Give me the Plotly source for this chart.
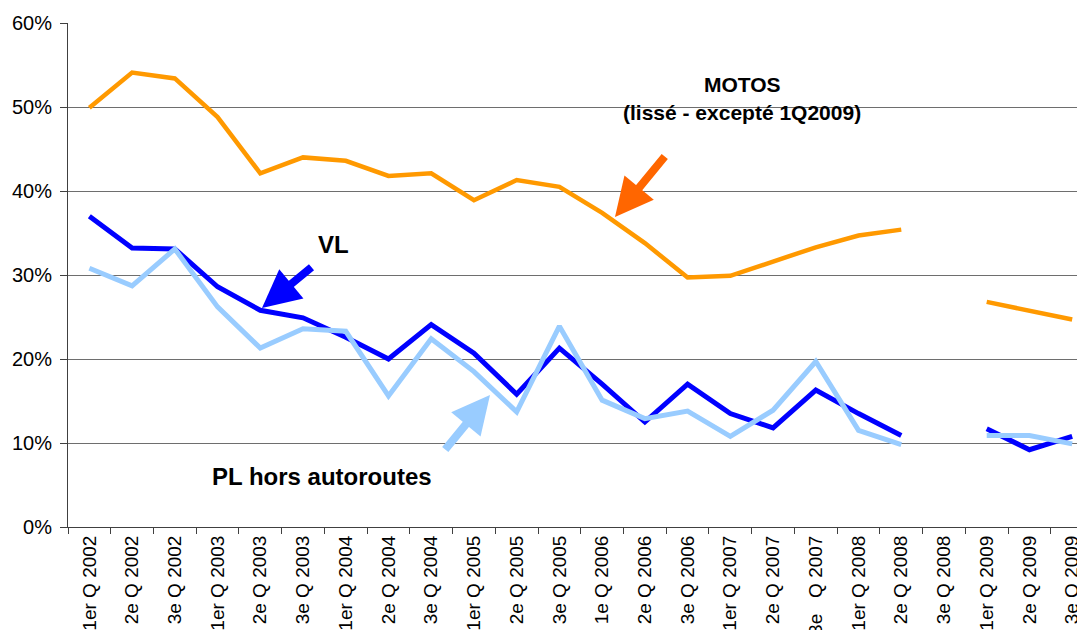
import plotly.graph_objects as go

categories = ["1er Q 2002", "2e Q 2002", "3e Q 2002", "1er Q 2003", "2e Q 2003", "3e Q 2003",
              "1er Q 2004", "2e Q 2004", "3e Q 2004", "1er Q 2005", "2e Q 2005", "3e Q 2005",
              "1e Q 2006", "2e Q 2006", "3e Q 2006", "1er Q 2007", "2e Q 2007", "3e\u00a0\u00a0 Q 2007",
              "1er Q 2008", "2e Q 2008", "3e Q 2008", "1er Q 2009", "2e Q 2009", "3e Q 2009"]

motos = [49.9, 54.1, 53.4, 48.8, 42.1, 44.0, 43.6, 41.8, 42.1, 38.9, 41.3, 40.5,
         37.4, 33.8, 29.7, 29.9, 31.6, 33.3, 34.7, 35.4, None, 26.8, 25.8, 24.7]
vl = [37.0, 33.2, 33.1, 28.6, 25.8, 24.9, 22.6, 20.0, 24.1, 20.7, 15.8, 21.3,
      17.0, 12.5, 17.0, 13.5, 11.8, 16.3, 13.5, 10.9, None, 11.7, 9.2, 10.8]
pl = [30.8, 28.7, 33.1, 26.2, 21.3, 23.6, 23.3, 15.6, 22.4, 18.5, 13.7, 23.9,
      15.1, 12.9, 13.8, 10.8, 13.9, 19.7, 11.5, 9.8, None, 10.9, 10.9, 9.9]

y_ticks = [0, 10, 20, 30, 40, 50, 60]

FONT = "Liberation Sans, Arial, sans-serif"
OFF = 8  # default page body margin
W, H = 1085 - OFF, 630 - OFF
ML, MR, MT, MB = 68 - OFF, 0, 23 - OFF, 103

def px2paper(px, py):
    # px, py in page pixels
    return (px - OFF - ML) / (W - ML - MR), (H - MB - (py - OFF)) / (H - MT - MB)

fig = go.Figure()
fig.add_trace(go.Scatter(x=categories, y=motos, mode="lines", name="MOTOS",
                         line=dict(color="#FF9900", width=4.5), connectgaps=False))
fig.add_trace(go.Scatter(x=categories, y=vl, mode="lines", name="VL",
                         line=dict(color="#0000FF", width=5), connectgaps=False))
fig.add_trace(go.Scatter(x=categories, y=pl, mode="lines", name="PL hors autoroutes",
                         line=dict(color="#99CCFF", width=5), connectgaps=False))

annotations = []

def text_ann(txt, px, py, size):
    x, y = px2paper(px, py)
    annotations.append(dict(text="<b>%s</b>" % txt, x=x, y=y, xref="paper", yref="paper",
                            showarrow=False, xanchor="center", yanchor="middle",
                            font=dict(family=FONT, size=size, color="black")))

def arrow_ann(tip, tail, color):
    x, y = px2paper(*tip)
    annotations.append(dict(text="", x=x, y=y, xref="paper", yref="paper",
                            showarrow=True, ax=tail[0] - tip[0], ay=tail[1] - tip[1],
                            arrowhead=2, arrowsize=0.95, arrowwidth=8, arrowcolor=color,
                            standoff=0, startstandoff=0, font=dict(size=1)))

text_ann("MOTOS", 742, 84, 21)
text_ann("(lissé - excepté 1Q2009)", 742, 112, 21)
text_ann("VL", 333, 244, 24)
text_ann("PL hors autoroutes", 322, 476, 24)

arrow_ann((615, 217), (666, 155), "#FF6600")
arrow_ann((262, 308), (313, 266), "#0000FF")
arrow_ann((490, 395), (444, 451), "#99CCFF")

fig.update_layout(
    width=W, height=H,
    margin=dict(l=ML, r=MR, t=MT, b=MB, pad=0),
    paper_bgcolor="white", plot_bgcolor="white",
    showlegend=False,
    font=dict(family=FONT, color="black"),
    annotations=annotations,
    xaxis=dict(type="category", range=[-0.5, 23.3], tickangle=-90, tickson="boundaries",
               ticks="outside", ticklen=6, tickcolor="#404040", tickwidth=1,
               showline=True, linecolor="#404040", linewidth=1, showgrid=False,
               tickfont=dict(family=FONT, size=19, color="black"), automargin=False,
               zeroline=False),
    yaxis=dict(range=[0, 60], tickvals=y_ticks, ticktext=["%d%%" % v for v in y_ticks],
               ticks="outside", ticklen=7, tickcolor="#404040", tickwidth=1,
               ticklabelstandoff=4,
               showline=True, linecolor="#404040", linewidth=1,
               showgrid=True, gridcolor="#6E6E6E", gridwidth=1, zeroline=False,
               tickfont=dict(family=FONT, size=20, color="black"), automargin=False),
)

fig.write_html("out.html")
